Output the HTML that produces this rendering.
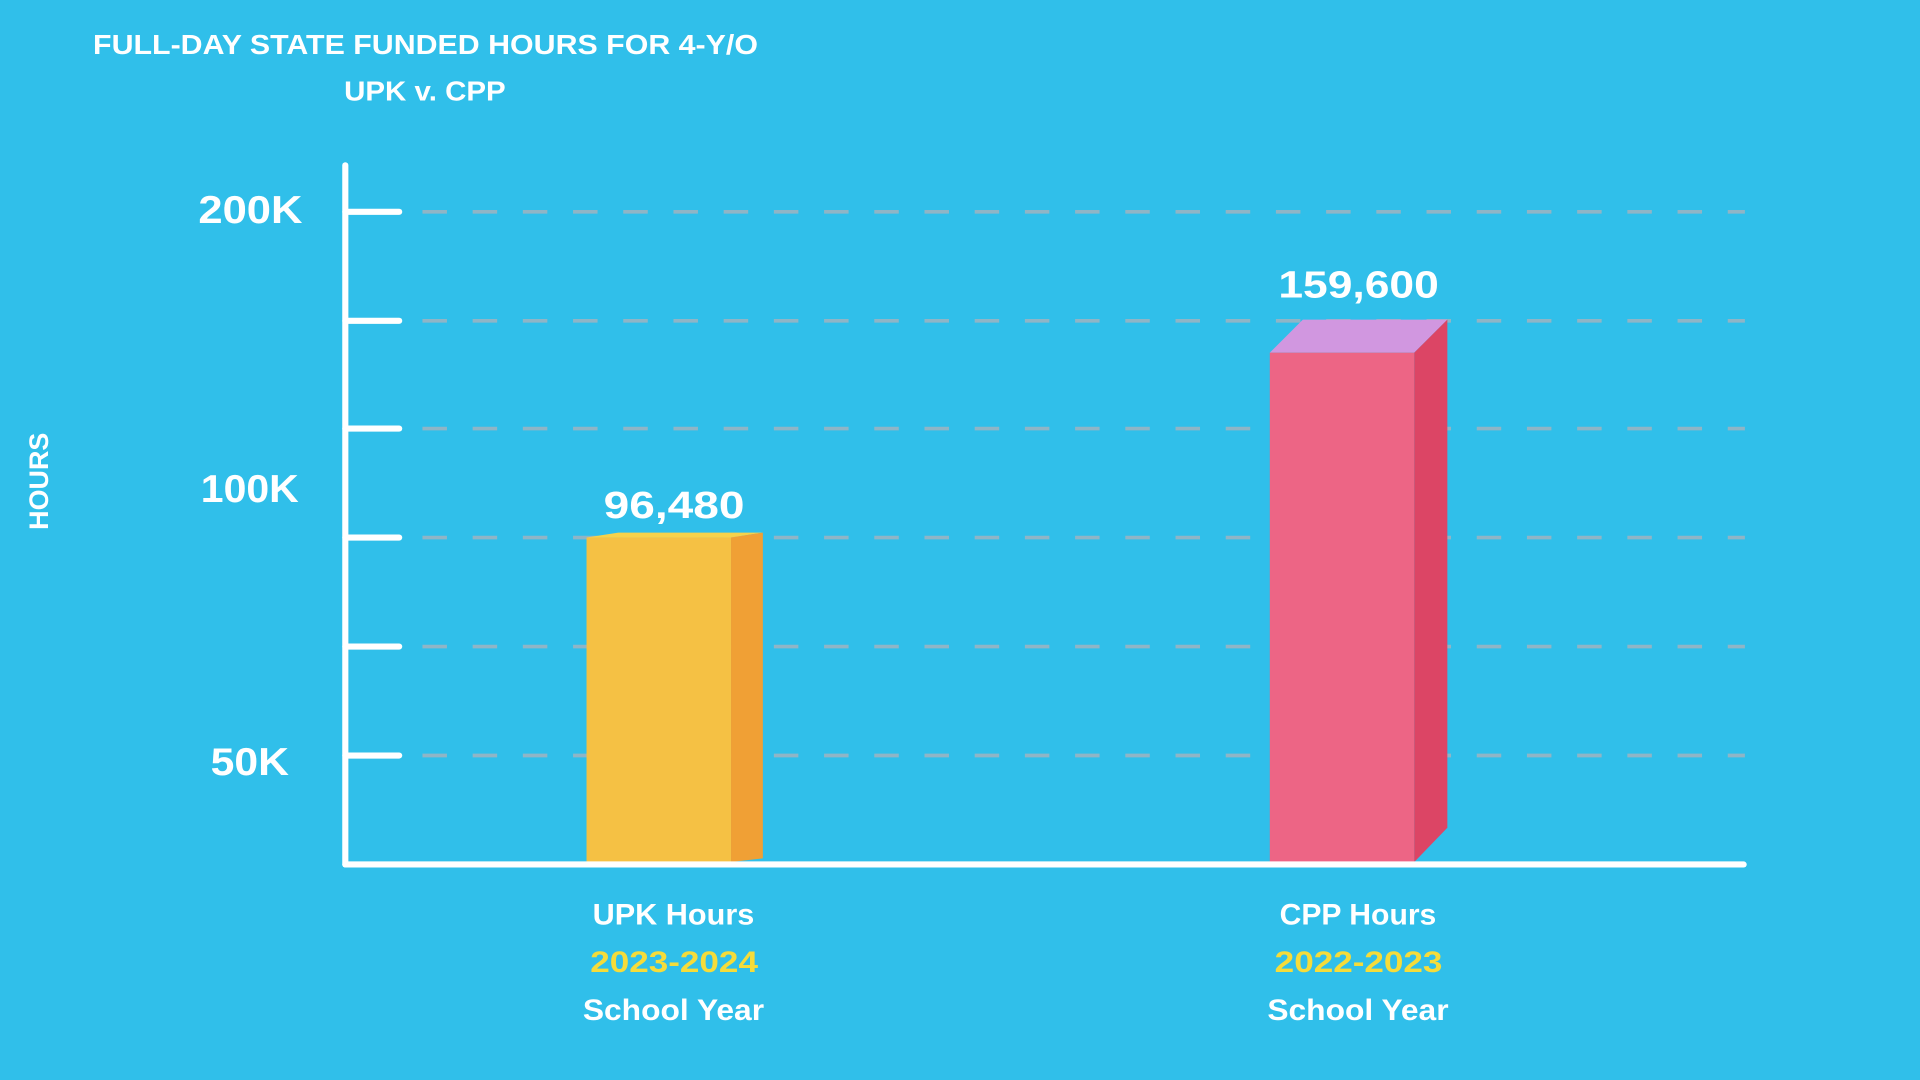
<!DOCTYPE html>
<html><head><meta charset="utf-8"><style>
html,body{margin:0;padding:0;background:#30bfea;}
svg{display:block;}
text{font-family:"Liberation Sans",sans-serif;font-weight:bold;fill:#fff;}
</style></head><body>
<svg width="1920" height="1080" viewBox="0 0 1568 882" xmlns="http://www.w3.org/2000/svg">
<rect width="1568" height="882" fill="#30bfea"/>
<text x="76" y="44" font-size="23" textLength="543" lengthAdjust="spacingAndGlyphs">FULL-DAY STATE FUNDED HOURS FOR 4-Y/O</text>
<text x="281" y="82" font-size="23" textLength="132" lengthAdjust="spacingAndGlyphs">UPK v. CPP</text>
<text transform="translate(39,393) rotate(-90)" font-size="22" text-anchor="middle">HOURS</text>
<g stroke="#8fb5c6" stroke-width="3" stroke-dasharray="20 21">
<line x1="345" y1="173" x2="1425" y2="173"/>
<line x1="345" y1="262" x2="1425" y2="262"/>
<line x1="345" y1="350" x2="1425" y2="350"/>
<line x1="345" y1="439" x2="1425" y2="439"/>
<line x1="345" y1="528" x2="1425" y2="528"/>
<line x1="345" y1="617" x2="1425" y2="617"/>
</g>
<polygon points="479,439 505,435 623,435 597,439" fill="#f7d24a"/>
<rect x="479" y="439" width="118" height="265" fill="#f5c144"/>
<polygon points="597,439 623,435 623,701 597,704" fill="#f0a035"/>
<polygon points="1037,288 1064,261 1182,261 1155,288" fill="#d197e0"/>
<rect x="1037" y="288" width="118" height="416" fill="#ed6585"/>
<polygon points="1155,288 1182,261 1182,676 1155,704" fill="#dc4565"/>
<g stroke="#fff" stroke-width="5" stroke-linecap="round">
<line x1="282" y1="135" x2="282" y2="706"/>
<line x1="282" y1="706" x2="1424" y2="706"/>
<line x1="282" y1="173" x2="326" y2="173"/>
<line x1="282" y1="262" x2="326" y2="262"/>
<line x1="282" y1="350" x2="326" y2="350"/>
<line x1="282" y1="439" x2="326" y2="439"/>
<line x1="282" y1="528" x2="326" y2="528"/>
<line x1="282" y1="617" x2="326" y2="617"/>
</g>
<text x="162" y="182" font-size="32" textLength="85" lengthAdjust="spacingAndGlyphs">200K</text>
<text x="164" y="410" font-size="32" textLength="80" lengthAdjust="spacingAndGlyphs">100K</text>
<text x="172" y="633" font-size="32" textLength="64" lengthAdjust="spacingAndGlyphs">50K</text>
<text x="493" y="423" font-size="31" textLength="115" lengthAdjust="spacingAndGlyphs">96,480</text>
<text x="1044" y="243" font-size="31" textLength="131" lengthAdjust="spacingAndGlyphs">159,600</text>
<text x="484" y="755" font-size="24" textLength="132" lengthAdjust="spacingAndGlyphs">UPK Hours</text>
<text x="482" y="794" font-size="24" textLength="137" lengthAdjust="spacingAndGlyphs" style="fill:#f5dc3a">2023-2024</text>
<text x="476" y="833" font-size="24" textLength="148" lengthAdjust="spacingAndGlyphs">School Year</text>
<text x="1045" y="755" font-size="24" textLength="128" lengthAdjust="spacingAndGlyphs">CPP Hours</text>
<text x="1041" y="794" font-size="24" textLength="137" lengthAdjust="spacingAndGlyphs" style="fill:#f5dc3a">2022-2023</text>
<text x="1035" y="833" font-size="24" textLength="148" lengthAdjust="spacingAndGlyphs">School Year</text>
</svg>
</body></html>
